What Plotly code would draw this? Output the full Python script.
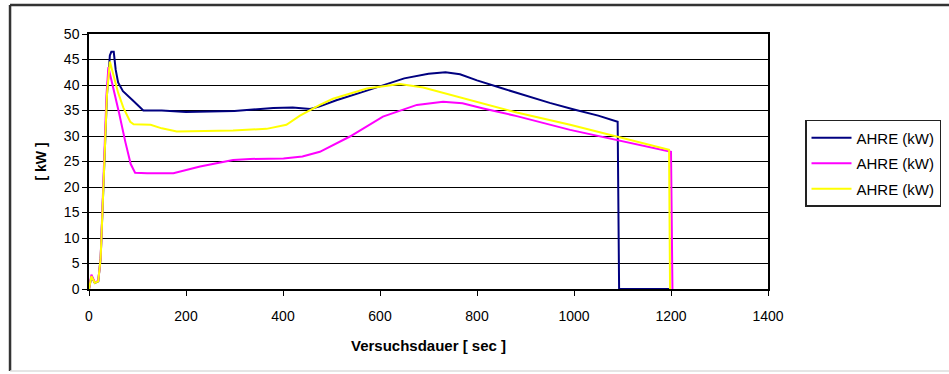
import plotly.graph_objects as go

# ---- data ----
blue_x = [0, 5, 12, 19, 24, 30, 37, 43, 46, 51, 55, 60, 70, 90, 112, 150, 200, 300, 380, 420, 456, 476,
          510, 560, 606, 650, 700, 735, 765, 800, 850, 900, 950, 1000, 1050, 1090, 1093, 1200]
blue_y = [0, 2.5, 1.2, 1.5, 6, 22, 38, 45.8, 46.5, 46.5, 43, 40.5, 38.8, 37, 35, 35, 34.7, 34.9, 35.5, 35.6, 35.3, 35.8,
          37, 38.5, 40, 41.3, 42.2, 42.5, 42.1, 40.9, 39.4, 37.9, 36.5, 35.2, 34.0, 32.8, 0, 0]

mag_x = [0, 5, 12, 19, 24, 30, 36, 40, 50, 62, 75, 86, 95, 120, 174, 229, 297, 332, 401, 440, 476, 538, 606,
         676, 730, 770, 813, 882, 992, 1100, 1200, 1203]
mag_y = [0, 2.8, 1.3, 1.6, 6, 22, 38, 43.5, 39.5, 34.5, 28.8, 24.5, 22.8, 22.7, 22.7, 24, 25.3, 25.5, 25.6, 26, 26.9, 29.9, 33.8,
         36.1, 36.7, 36.4, 35.4, 33.9, 31.2, 29.0, 26.9, 0]

yel_x = [0, 5, 12, 19, 24, 30, 37, 43, 50, 60, 71, 85, 92, 127, 150, 181, 297, 366, 407, 435, 476, 503,
         573, 641, 689, 813, 882, 992, 1100, 1196, 1198]
yel_y = [0, 2.5, 1.2, 1.5, 6, 22, 38, 44.6, 42, 38.5, 35.5, 32.8, 32.3, 32.2, 31.5, 30.9, 31.1, 31.4, 32.2, 34.0, 36.1, 37.3,
         39.3, 40.2, 39.5, 36.4, 34.6, 32.2, 29.6, 27.3, 0]

series_names = ["AHRE (kW)", "AHRE (kW)", "AHRE (kW)"]
x_ticks = [0, 200, 400, 600, 800, 1000, 1200, 1400]
y_ticks = [0, 5, 10, 15, 20, 25, 30, 35, 40, 45, 50]
x_title = "Versuchsdauer [ sec ]"
y_title = "[ kW ]"

FONT = "Arial, Liberation Sans, sans-serif"

fig = go.Figure()
for i, (xs, ys, name, col) in enumerate([(blue_x, blue_y, series_names[0], "#000080"),
                                         (mag_x, mag_y, series_names[1], "#FF00FF"),
                                         (yel_x, yel_y, series_names[2], "#FFFF00")]):
    fig.add_trace(go.Scatter(x=xs, y=ys, mode="lines", name=name, legendgroup="g%d" % i,
                             line=dict(color=col, width=2)))

# outer chart frame (paper coords)
fig.add_shape(type="line", xref="paper", yref="paper", x0=-0.1163, x1=-0.1163, y0=-0.322, y1=1.1137,
              line=dict(color="#333333", width=2.5))
fig.add_shape(type="line", xref="paper", yref="paper", x0=-0.1163, x1=1.35, y0=1.1137, y1=1.1137,
              line=dict(color="#333333", width=2.5))
fig.add_shape(type="line", xref="paper", yref="paper", x0=-0.1163, x1=1.35, y0=-0.322, y1=-0.322,
              line=dict(color="#dddddd", width=1.5))

fig.update_layout(
    width=949, height=374,
    margin=dict(l=89, r=181, t=34, b=85, autoexpand=False),
    paper_bgcolor="white", plot_bgcolor="white",
    font=dict(family=FONT, size=13, color="#000000"),
    showlegend=True,
    legend=dict(x=1.0545, y=0.663, xanchor="left", yanchor="top",
                bgcolor="white", bordercolor="#222222", borderwidth=1.5,
                font=dict(family=FONT, size=15, color="#000000"),
                itemwidth=40, tracegroupgap=3, entrywidth=200, entrywidthmode="pixels"),
)
fig.update_xaxes(range=[0, 1400], tickvals=x_ticks, ticktext=[str(v) for v in x_ticks],
                 showgrid=False, zeroline=False, showline=True, linecolor="#000000", linewidth=1.5,
                 mirror=True, ticks="outside", ticklen=5, tickcolor="#000000",
                 ticklabelstandoff=8,
                 tickfont=dict(family=FONT, size=14),
                 title=dict(text="<b>" + x_title + "</b>", font=dict(family=FONT, size=15), standoff=18))
fig.update_yaxes(range=[0, 50], tickvals=y_ticks, ticktext=[str(v) for v in y_ticks],
                 showgrid=True, gridcolor="#000000", gridwidth=1,
                 zeroline=False, showline=True, linecolor="#000000", linewidth=1.5,
                 mirror=True, ticks="outside", ticklen=5, tickcolor="#000000",
                 tickfont=dict(family=FONT, size=14),
                 title=dict(text="<b>" + y_title + "</b>", font=dict(family=FONT, size=14), standoff=14))

fig.write_html("out.html")
